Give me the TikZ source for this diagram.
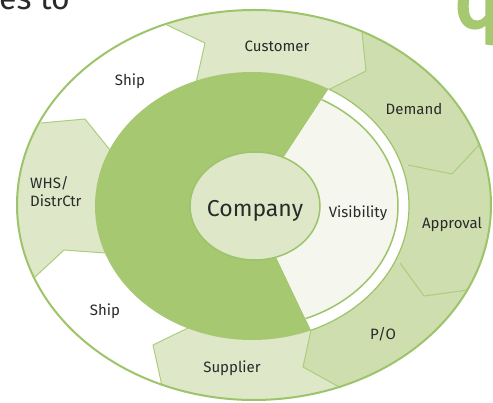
\documentclass[tikz,border=0pt]{standalone}
\usepackage{fontspec}
\setmainfont{Fira Sans}
\newfontfamily\heavyfont[FakeBold=4]{Fira Sans}
\usetikzlibrary{calc}
\definecolor{dk}{HTML}{A5C870}
\definecolor{lt}{HTML}{DEE8C8}
\definecolor{md}{HTML}{CEDEAE}
\definecolor{vis}{HTML}{F5F6EE}
\definecolor{ln}{HTML}{9DC46A}
\definecolor{lnl}{HTML}{ABCD7E}
\definecolor{txt}{HTML}{2A2A2A}
\begin{document}
\begin{tikzpicture}[x=1pt,y=-1pt,
  lbl/.style={font=\fontsize{15}{18}\selectfont, text=txt, inner sep=0pt},
  bnd/.style={draw=lnl, line width=1pt, line join=round},
  rim/.style={draw=ln, line width=1.5pt}]
\useasboundingbox (0,0) rectangle (493,403);
\coordinate (C) at (252,206);
\coordinate (O) at (254,205);
% boundaries: outer point A, tip T, inner point I
\coordinate (A1) at (167,25);  \coordinate (T1) at (205,43);  \coordinate (I1) at (196,83);
\coordinate (A2) at (362,32);  \coordinate (T2) at (366,71);  \coordinate (I2) at (328,90);
\coordinate (A3) at (479,145); \coordinate (T3) at (452,174); \coordinate (I3) at (408,165);
\coordinate (A4) at (468,290); \coordinate (T4) at (424,296); \coordinate (I4) at (400,263);
\coordinate (A5) at (341,388); \coordinate (T5) at (303,367); \coordinate (I5) at (311,330);
\coordinate (A6) at (162,386); \coordinate (T6) at (153,345); \coordinate (I6) at (188,328);
\coordinate (A7) at (35,277);  \coordinate (T7) at (64,250);  \coordinate (I7) at (105,253);
\coordinate (A8) at (41,123);  \coordinate (T8) at (85,119);  \coordinate (I8) at (110,150);
% ring segments
\begin{scope}
  \clip (O) ellipse [x radius=237, y radius=195];
  \foreach \a/\b/\c in {8/1/white,1/2/lt,2/3/md,3/4/md,4/5/md,5/6/lt,6/7/white,7/8/lt}{
    \fill[\c] (C) -- (I\a) -- (T\a) -- (A\a) -- ($(C)!4!(A\a)$) -- ($(C)!4!(A\b)$)
      -- (A\b) -- (T\b) -- (I\b) -- cycle;
  }
\end{scope}
\foreach \i in {1,...,8}{ \draw[bnd] (I\i) -- (T\i) -- (A\i); }
% inner dark green ellipse
\fill[dk] (C) ellipse [x radius=157, y radius=134];
% visibility wedge with white gap
\begin{scope}
  \clip (C) -- ($(C)!4!(I2)$) -- ($(C)!4!(I3)$) -- ($(C)!4!(I4)$) -- ($(C)!4!(I5)$) -- cycle;
  \fill[white] (C) ellipse [x radius=157, y radius=134];
  \draw[rim, line width=1.2pt] (C) ellipse [x radius=157, y radius=134];
  \fill[vis] (C) ellipse [x radius=146, y radius=121];
  \draw[rim] (C) ellipse [x radius=146, y radius=121];
\end{scope}
% company
\coordinate (cen) at (255,206);
\draw[ln, line width=1.5pt, fill=lt] (cen) ellipse [x radius=65, y radius=54];
% outer rim
\draw[ln, line width=2pt] (O) ellipse [x radius=237, y radius=195];
% labels
\node[font=\fontsize{23}{26}\selectfont, text=txt, inner sep=0pt] (company) at (255,211) {Company};
\node[lbl] (visl) at (358,213) {Visibility};
\node[lbl] (cust) at (277,46) {Customer};
\node[lbl] (ship1) at (130,81) {Ship};
\node[lbl] (dem) at (414,109) {Demand};
\node[lbl, align=left, anchor=west] (whs) at (30,192) {WHS/\\DistrCtr};
\node[lbl] (appr) at (452,224) {Approval};
\node[lbl] (ship2) at (105,311) {Ship};
\node[lbl] (po) at (383,334) {P/O};
\node[lbl] (sup) at (232,368) {Supplier};
% clipped heading fragments
\node[font=\fontsize{32}{34}\selectfont, text=txt, anchor=base west, inner sep=0pt] (head) at (-1,10) {es to};
\node[font=\heavyfont\fontsize{80}{82}\selectfont, text=dk, anchor=base west, inner sep=0pt] (headq) at (454,27) {q};
\end{tikzpicture}
\end{document}
